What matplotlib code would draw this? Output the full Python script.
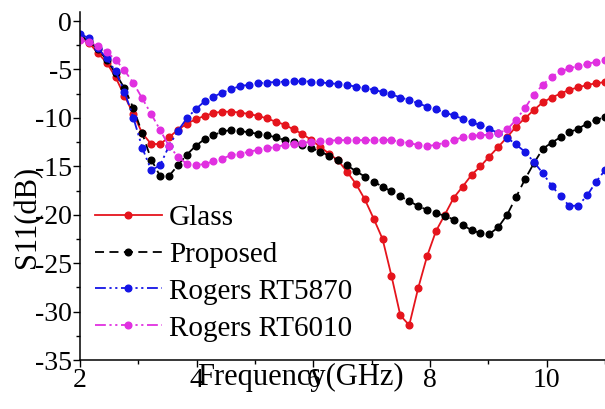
"""S11 vs frequency for the four substrates"""

import numpy as np
import matplotlib
matplotlib.use("Agg")
import matplotlib.pyplot as plt
from matplotlib import font_manager
from matplotlib.ticker import MultipleLocator

# frequency sweep, 60 points from 2 to 11 GHz
freq = np.linspace(2, 11, 60)

glass = [-1.6, -2.24, -3.3, -4.3, -5.8, -7.74, -9.6, -11.6, -12.7, -12.7,
         -12.0, -11.25, -10.6, -10.15, -9.8, -9.5, -9.36, -9.36, -9.46, -9.6,
         -9.8, -10.05, -10.4, -10.7, -11.2, -11.66, -12.3, -13.0, -13.7, -14.4,
         -15.55, -16.8, -18.4, -20.4, -22.5, -26.3, -30.4, -31.4, -27.6, -24.3,
         -21.7, -20.0, -18.25, -17.1, -15.9, -15.0, -14.0, -13.0, -12.0, -10.9,
         -10.04, -9.2, -8.4, -7.9, -7.5, -7.1, -6.85, -6.6, -6.43, -6.3]

proposed = [-1.5, -2.1, -2.9, -4.0, -5.4, -6.95, -9.0, -11.6, -14.3, -16.0,
            -16.0, -14.9, -13.8, -12.9, -12.2, -11.8, -11.4, -11.25, -11.35, -11.5,
            -11.65, -11.8, -12.0, -12.3, -12.5, -12.8, -13.1, -13.5, -13.9, -14.4,
            -14.9, -15.5, -16.06, -16.6, -17.1, -17.6, -18.1, -18.6, -19.1, -19.5,
            -19.85, -20.1, -20.5, -21.05, -21.6, -21.9, -22.0, -21.3, -20.0, -18.2,
            -16.35, -14.7, -13.2, -12.56, -12.0, -11.5, -11.1, -10.6, -10.2, -9.95]

rt5870 = [-1.3, -1.8, -2.8, -3.85, -5.2, -7.3, -10.0, -13.1, -15.4, -14.9,
          -12.9, -11.35, -10.05, -9.1, -8.3, -7.8, -7.4, -7.05, -6.7, -6.6,
          -6.43, -6.35, -6.3, -6.26, -6.23, -6.22, -6.25, -6.33, -6.43, -6.5,
          -6.6, -6.78, -6.95, -7.1, -7.33, -7.57, -7.9, -8.15, -8.5, -8.84,
          -9.1, -9.45, -9.75, -10.1, -10.45, -10.75, -11.1, -11.6, -12.05, -12.75,
          -13.5, -14.55, -15.7, -17.0, -18.1, -19.1, -19.05, -18.0, -16.6, -15.4]

rt6010 = [-1.96, -2.2, -2.58, -3.2, -4.0, -5.1, -6.4, -8.0, -9.6, -11.25,
          -12.9, -14.0, -14.76, -14.9, -14.76, -14.5, -14.2, -13.85, -13.7, -13.5,
          -13.3, -13.15, -13.0, -12.8, -12.7, -12.55, -12.5, -12.4, -12.35, -12.3,
          -12.3, -12.3, -12.3, -12.3, -12.25, -12.3, -12.45, -12.6, -12.8, -12.9,
          -12.8, -12.55, -12.3, -12.0, -11.9, -11.76, -11.76, -11.6, -11.2, -10.2,
          -9.0, -7.6, -6.6, -5.75, -5.2, -4.9, -4.64, -4.44, -4.2, -4.0]

labels = ["Glass", "Proposed", "Rogers RT5870", "Rogers RT6010"]


def main():
    # Times-like serif: take the first one that is installed
    names = {f.name for f in font_manager.fontManager.ttflist}
    serif = [n for n in ["Liberation Serif", "Tinos", "Nimbus Roman",
                         "Times New Roman", "STIXGeneral"] if n in names]
    plt.rcParams["font.family"] = "serif"
    plt.rcParams["font.serif"] = serif + ["DejaVu Serif"]
    plt.rcParams["axes.unicode_minus"] = False

    fig = plt.figure(figsize=(6.05, 4.09), dpi=100)
    ax = fig.add_axes([80 / 605, 1 - 360 / 409, 525 / 605, 348 / 409])

    dashdotdot = (0, (6, 2, 1.2, 2, 1.2, 2))
    styles = [
        dict(color="#e5141c", linestyle="-"),
        dict(color="black", linestyle=(0, (5, 3))),
        dict(color="#1414e6", linestyle=dashdotdot),
        dict(color="#e030e0", linestyle=dashdotdot),
    ]
    series = [glass, proposed, rt5870, rt6010]

    for y, label, st in zip(series, labels, styles):
        ax.plot(freq, y, marker="o", markersize=4.8, linewidth=1.3,
                label=label, **st)

    ax.set_xlim(2, 11)
    ax.set_ylim(-35, 0.93)
    ax.xaxis.set_major_locator(MultipleLocator(2))
    ax.xaxis.set_minor_locator(MultipleLocator(1))
    ax.yaxis.set_major_locator(MultipleLocator(5))
    ax.yaxis.set_minor_locator(MultipleLocator(2.5))

    for side in ["top", "right"]:
        ax.spines[side].set_visible(False)
    for side in ["left", "bottom"]:
        ax.spines[side].set_linewidth(1.1)

    ax.tick_params(which="major", direction="out", length=5, width=1.0,
                   labelsize=20, pad=1)
    ax.tick_params(which="minor", direction="out", length=3, width=1.0)

    ax.set_xlabel("Frequency(GHz)", fontsize=22)
    ax.xaxis.set_label_coords(0.42, -0.072)
    ax.xaxis.label.set_va("baseline")
    ax.set_ylabel("S11(dB)", fontsize=22)
    ax.yaxis.set_label_coords(-0.072, 0.41)

    ax.legend(loc="upper left", bbox_to_anchor=(0.028, 0.447), frameon=False,
              fontsize=21, handlelength=2.3, handletextpad=0.25,
              labelspacing=0.36, borderpad=0, borderaxespad=0, numpoints=1)

    fig.savefig("out.png", dpi=100)
    plt.close(fig)


if __name__ == "__main__":
    main()
